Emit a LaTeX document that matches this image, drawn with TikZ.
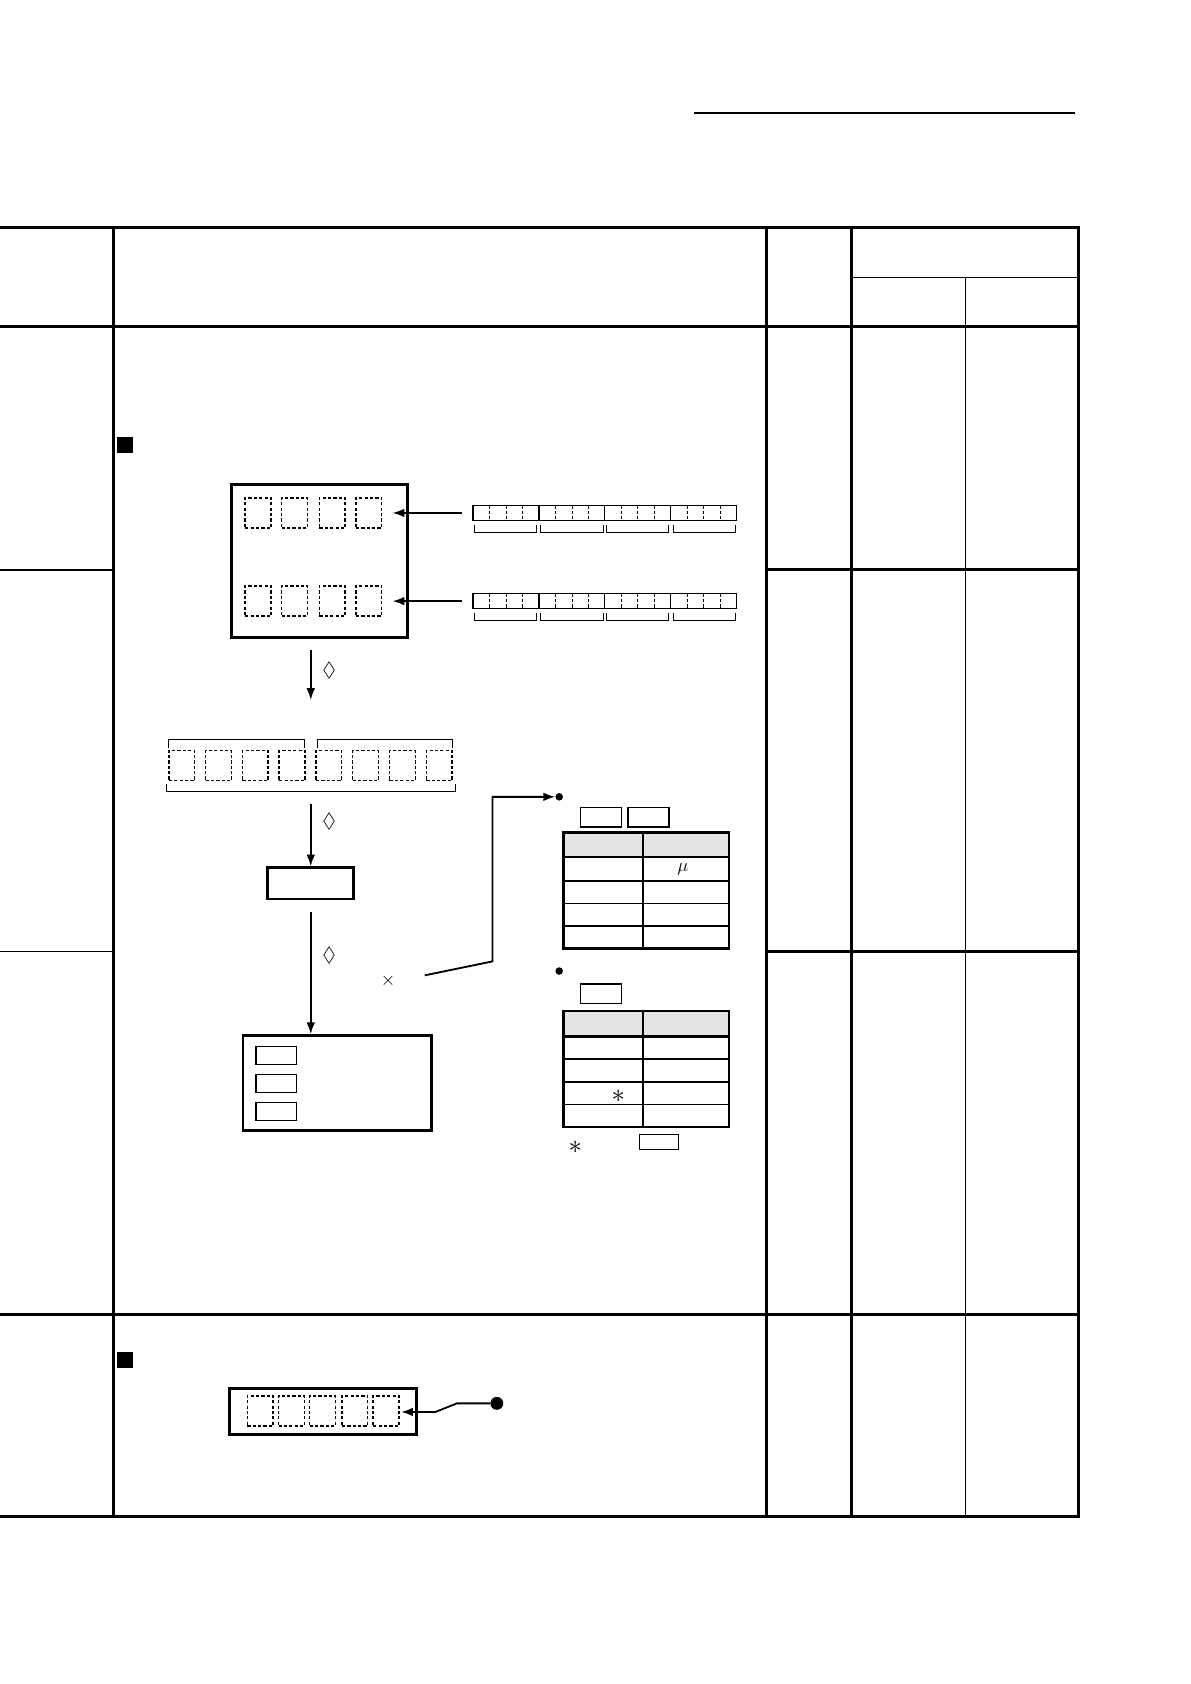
\documentclass[tikz,border=0pt]{standalone}
\usepackage{amssymb}
\usetikzlibrary{arrows.meta}
\begin{document}
\begin{tikzpicture}[x=1pt,y=-1pt,
  thick line/.style={line width=2.8pt},
  thin line/.style={line width=1.3pt},
  dbox/.style={draw,densely dashed,line width=1.3pt},
  sbox/.style={draw,line width=1.2pt},
  sym/.style={font=\fontsize{19}{22}\selectfont},
  arr/.style={-{Latex[length=11pt,width=8pt]},line width=1.7pt}]
\useasboundingbox (0,0) rectangle (1107,1566);
\draw[line width=1.1pt] (645,105) -- (1000,105);
\draw[thick line] (0,212) -- (1003,212) -- (1003,1410) -- (0,1410);
\draw[thick line] (0,304) -- (1003,304);
\draw[thick line] (0,1222) -- (1003,1222);
\foreach \x in {106,713,792} \draw[thick line] (\x,212) -- (\x,1410);
\draw[thin line] (792,258) -- (1003,258);
\draw[thin line] (898,258) -- (898,1410);
\foreach \y in {530,885}{\draw[thin line] (0,\y) -- (106,\y); \draw[thick line] (713,\y) -- (1003,\y);}
\fill (109,406) rectangle (124,421);
\fill (109,1257) rectangle (124,1272);
\node[draw,line width=2.8pt,minimum width=164pt,minimum height=142pt,inner sep=0] (big) at (297,522) {};
\foreach \r/\y in {1/477,2/559}{
 \foreach \i/\x in {1/240,2/274,3/309,4/343}
   \node[dbox,minimum width=24pt,minimum height=28pt,inner sep=0] (c\r\i) at (\x,\y) {};
 \coordinate (s\r) at (430,\y);
 \draw[arr] (s\r) -- (365,\y);
 \draw[line width=1.5pt] (440,\y-7) rectangle (685,\y+7);
 \foreach \k in {1,...,15}{\pgfmathsetmacro\xx{440+\k*245/16}
   \ifnum\numexpr\k-4*(\k/4)\relax=0 \draw[line width=1.1pt] (\xx,\y-7) -- (\xx,\y+7);
   \else\draw[densely dashed,line width=0.8pt] (\xx,\y-7) -- (\xx,\y+7);\fi}
 \foreach \a/\b in {441/499,503/561,564/622,626/684}
   \draw[line width=1pt] (\a,\y+11) -- (\a,\y+18) -- (\b,\y+18) -- (\b,\y+11);
}
\coordinate (a1) at (289,604);
\draw[arr] (a1) -- (289,651);
\node[sym] at (306,624) {$\lozenge$};
\foreach \i in {0,...,7}
  \node[dbox,minimum width=24pt,minimum height=28pt,inner sep=0] (d\i) at (169+\i*34.2,712) {};
\draw[line width=1pt] (157,696) -- (157,688) -- (283,688) -- (283,696);
\draw[line width=1pt] (295,696) -- (295,688) -- (421,688) -- (421,696);
\draw[line width=1pt] (155,729) -- (155,736) -- (424,736) -- (424,729);
\coordinate (a2) at (289,748);
\node[draw,line width=2.5pt,minimum width=80pt,minimum height=29pt,inner sep=0] (mid) at (289,821.5) {};
\draw[arr] (a2) -- (mid.north);
\node[sym] at (306,764) {$\lozenge$};
\node[draw,line width=2.5pt,minimum width=175pt,minimum height=88pt,inner sep=0] (low) at (313.5,1007) {};
\coordinate (a3) at (289,848);
\draw[arr] (a3) -- (low.north -| a3);
\node[sym] at (306,889) {$\lozenge$};
\node[sym] at (361,912) {$\times$};
\foreach \y in {981.5,1007.5,1033.5}
  \node[sbox,minimum width=38pt,minimum height=17pt,inner sep=0] at (257,\y) {};
\coordinate (l0) at (395,907);
\node[circle,fill,inner sep=0,minimum size=7pt] (dot1) at (520,741) {};
\draw[arr] (l0) -- (458,894) -- (458,741) -- (dot1.west);
\node[sbox,minimum width=38pt,minimum height=18pt,inner sep=0] at (559,760) {};
\node[sbox,minimum width=38pt,minimum height=18pt,inner sep=0] at (603,760) {};
\fill[gray!22] (524,774) rectangle (678,797);
\draw[line width=2.4pt] (524,774) rectangle (678,882);
\draw[line width=2.4pt] (524,797) -- (678,797);
\draw[line width=1.8pt] (598,774) -- (598,882);
\foreach \y in {819,840,861} \draw[line width=1.5pt] (524,\y) -- (678,\y);
\node[font=\fontsize{16}{18}\selectfont] at (635,808) {$\mu$};
\node[circle,fill,inner sep=0,minimum size=7pt] (dot2) at (520,903) {};
\node[sbox,minimum width=38pt,minimum height=18pt,inner sep=0] at (559,924) {};
\fill[gray!22] (524,940) rectangle (678,964);
\draw[line width=2.4pt] (524,940) rectangle (678,1048);
\draw[line width=2.4pt] (524,964) -- (678,964);
\draw[line width=1.8pt] (598,940) -- (598,1048);
\foreach \y in {985,1006,1027} \draw[line width=1.5pt] (524,\y) -- (678,\y);
\node[font=\fontsize{28}{30}\selectfont] at (575,1019) {$\ast$};
\node[font=\fontsize{28}{30}\selectfont] at (535,1067) {$\ast$};
\node[sbox,minimum width=36pt,minimum height=14pt,inner sep=0] at (613,1062) {};
\node[draw,line width=2.8pt,minimum width=174pt,minimum height=43pt,inner sep=0] (bb) at (300,1312.5) {};
\foreach \x in {242,271,300,330,359}
  \node[dbox,minimum width=24pt,minimum height=28pt,inner sep=0] at (\x,1312) {};
\node[circle,fill,inner sep=0,minimum size=12pt] (dot3) at (462,1305) {};
\draw[arr] (dot3) -- (425,1305) -- (405,1313) -- (373,1313);
\end{tikzpicture}
\end{document}
